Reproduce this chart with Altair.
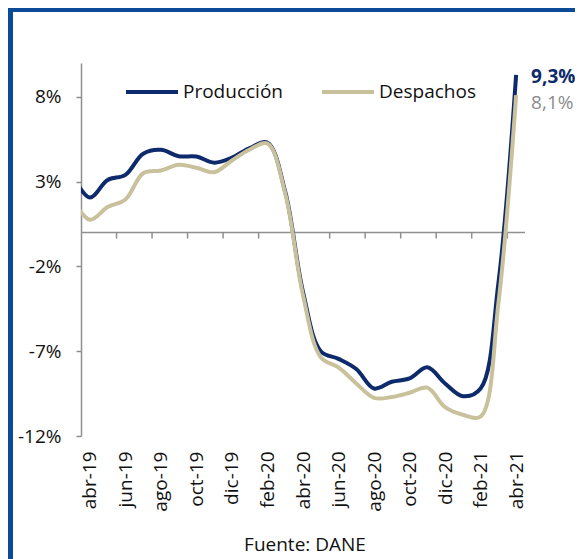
import altair as alt
import pandas as pd

# ---- data ----
months = ["mar-19", "abr-19", "may-19", "jun-19", "jul-19", "ago-19", "sep-19", "oct-19",
          "nov-19", "dic-19", "ene-20", "feb-20", "mar-20", "abr-20", "may-20", "jun-20",
          "jul-20", "ago-20", "sep-20", "oct-20", "nov-20", "dic-20", "ene-21", "feb-21",
          "mar-21", "abr-21"]
produccion = [3.4, 2.07, 3.1, 3.4, 4.65, 4.88, 4.5, 4.48, 4.12, 4.42,
              4.98, 5.3, 2.4, -3.5, -7.0, -7.45, -8.05, -9.2, -8.8, -8.6,
              -7.95, -8.9, -9.65, -9.2, -3.0, 9.3]
despachos = [2.0, 0.75, 1.5, 1.95, 3.5, 3.66, 4.0, 3.82, 3.56, 4.25,
             4.9, 5.25, 2.3, -3.7, -7.35, -7.95, -8.9, -9.75, -9.7, -9.45,
             -9.15, -10.3, -10.75, -10.85, -4.2, 8.1]
series_names = ["Producción", "Despachos"]
x_labels = ["abr-19", "jun-19", "ago-19", "oct-19", "dic-19", "feb-20", "abr-20",
            "jun-20", "ago-20", "oct-20", "dic-20", "feb-21", "abr-21"]
y_ticks = [-12, -7, -2, 3, 8]
source_text = "Fuente: DANE"

# ---- styles ----
NAVY = "#0D2A6C"
BEIGE = "#C9C09C"
GRAY_LABEL = "#8C8C8C"
AXIS_GRAY = "#8F8F8F"
FRAME = "#0B4A97"
FONT = "Open Sans"
FS = 19

# month index: abr-19 = 0
t_vals = [i - 1 for i in range(len(months))]
rows = []
for name, vals in zip(series_names, [produccion, despachos]):
    for m, t, v in zip(months, t_vals, vals):
        rows.append({"mes": m, "t": t, "v": v, "serie": name})
df = pd.DataFrame(rows)

label_idx = {lab: months.index(lab) - 1 for lab in x_labels}
label_expr = "[" + ",".join(f"'{l}'" for l in x_labels) + "][round(datum.value/2)]"

x_enc = alt.X(
    "t:Q",
    scale=alt.Scale(domain=[-0.5, len(months) - 1.5], nice=False, zero=False),
    axis=alt.Axis(values=[label_idx[l] for l in x_labels], labelExpr=label_expr,
                  labelAngle=-90, domain=False, ticks=False, grid=False, title=None,
                  labelPadding=15, labelFontSize=FS, labelFont=FONT, labelColor="#111111"),
)
y_enc = alt.Y(
    "v:Q",
    scale=alt.Scale(domain=[-12, 10], nice=False, zero=False),
    axis=alt.Axis(values=y_ticks, labelExpr="datum.value + '%'", grid=False, title=None,
                  domainColor=AXIS_GRAY, domainWidth=1.5, tickColor=AXIS_GRAY, tickWidth=1.5,
                  tickSize=5, labelPadding=15, labelFontSize=FS, labelFont=FONT,
                  labelColor="#111111"),
)

W, H = 444, 373
PAD_L, PAD_T = 73, 55
CANVAS_W, CANVAS_H = 567, 551

# decorative frame (top and left blue borders)
frame_df = pd.DataFrame({"k": [0]})
frame_top = alt.Chart(frame_df).mark_rect(color=FRAME).encode(
    x=alt.value(-PAD_L), x2=alt.value(CANVAS_W - PAD_L),
    y=alt.value(-PAD_T), y2=alt.value(-PAD_T + 4))
frame_left = alt.Chart(frame_df).mark_rect(color=FRAME).encode(
    x=alt.value(-PAD_L), x2=alt.value(-PAD_L + 5),
    y=alt.value(-PAD_T), y2=alt.value(CANVAS_H - PAD_T))

# zero line with tick marks every two months
zero_df = pd.DataFrame({"v": [0]})
zero_line = alt.Chart(zero_df).mark_rule(color=AXIS_GRAY, strokeWidth=1.5).encode(y=y_enc)
tick_df = pd.DataFrame({"t": [2 * k - 0.5 for k in range(1, 13)], "v": 0})
zero_ticks = alt.Chart(tick_df).mark_rule(color=AXIS_GRAY, strokeWidth=1.5, y2Offset=6).encode(
    x=x_enc, y=y_enc, y2=alt.Y2("v"))

lines = alt.Chart(df).mark_line(strokeWidth=4, interpolate="catmull-rom", clip=True).encode(
    x=x_enc, y=y_enc,
    color=alt.Color("serie:N",
                    scale=alt.Scale(domain=series_names, range=[NAVY, BEIGE]),
                    legend=alt.Legend(title=None, orient="none", legendX=43, legendY=1,
                                      direction="horizontal", symbolType="stroke",
                                      symbolSize=2704, symbolStrokeWidth=4,
                                      labelFontSize=FS, labelFont=FONT, labelColor="#111111",
                                      labelOffset=3, columnPadding=31, padding=0)),
    order=alt.Order("serie_order:Q"),
).transform_calculate(serie_order="datum.serie == 'Producción' ? 0 : 1")

end_df = pd.DataFrame({
    "t": [t_vals[-1], t_vals[-1]],
    "v": [produccion[-1], despachos[-1]],
    "lab": [f"{produccion[-1]:.1f}%".replace(".", ","), f"{despachos[-1]:.1f}%".replace(".", ",")],
})
end_prod = alt.Chart(end_df.iloc[[0]]).mark_text(
    align="left", baseline="middle", dx=15, dy=2, font=FONT, fontSize=FS,
    fontWeight="bold", color=NAVY).encode(x=x_enc, y=y_enc, text="lab:N")
end_desp = alt.Chart(end_df.iloc[[1]]).mark_text(
    align="left", baseline="middle", dx=15, dy=8, font=FONT, fontSize=FS,
    color=GRAY_LABEL).encode(x=x_enc, y=y_enc, text="lab:N")

# source note under the axis labels
src = alt.Chart(pd.DataFrame({"s": [source_text]})).mark_text(
    align="center", baseline="middle", font=FONT, fontSize=FS, color="#111111").encode(
    x=alt.value(224), y=alt.value(482), text="s:N")

chart = alt.layer(
    frame_top, frame_left, zero_line, zero_ticks, lines, end_prod, end_desp, src
).properties(
    width=W, height=H,
    autosize=alt.AutoSizeParams(type="none"),
    padding={"left": PAD_L, "top": PAD_T, "right": CANVAS_W - PAD_L - W, "bottom": CANVAS_H - PAD_T - H},
).configure(background="white", view=alt.ViewConfig(stroke=None))

chart.save("out.html", embed_options={"renderer": "svg", "actions": False})
